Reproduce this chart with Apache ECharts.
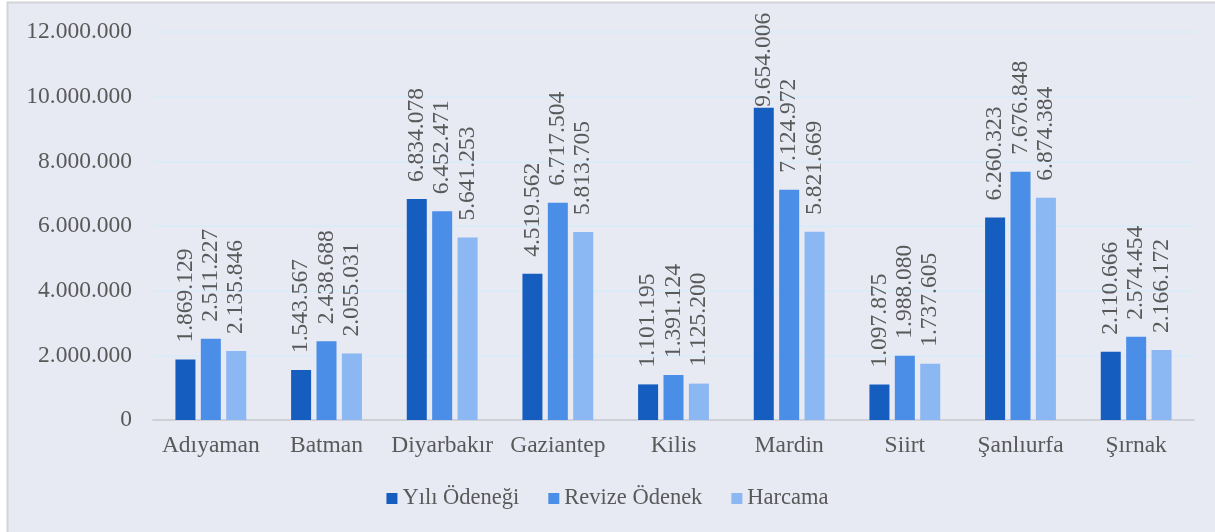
<!DOCTYPE html>
<html><head><meta charset="utf-8">
<script src="https://cdn.jsdelivr.net/npm/echarts@6/dist/echarts.min.js"></script>
<style>html,body{margin:0;padding:0;background:#fff;}#c{width:1215px;height:532px;}</style>
</head><body><div id="c"></div>
<script>
var categories = ['Adıyaman','Batman','Diyarbakır','Gaziantep','Kilis','Mardin','Siirt','Şanlıurfa','Şırnak'];
var seriesNames = ['Yılı Ödeneği','Revize Ödenek','Harcama'];
var yiliOdenegi = [1869129,1543567,6834078,4519562,1101195,9654006,1097875,6260323,2110666];
var revizeOdenek = [2511227,2438688,6452471,6717504,1391124,7124972,1988080,7676848,2574454];
var harcama = [2135846,2055031,5641253,5813705,1125200,5821669,1737605,6874384,2166172];
var yTicks = [0,2000000,4000000,6000000,8000000,10000000,12000000];

function fmt(v){ return String(v).replace(/\B(?=(\d{3})+(?!\d))/g,'.'); }
var font = '"Liberation Serif","Times New Roman",serif';
var colors = ['#155EBF','#4A8EE8','#8BB7F2'];
var chart = echarts.init(document.getElementById('c'));
function mk(name, data, i){
  // labels that would leave the plot area are pulled down against the bar top
  var items = data.map(function(v){ return v > 9000000 ? {value:v,label:{distance:1}} : v; });
  return {name:name,type:'bar',data:items,barWidth:20,barGap:'27%',
    itemStyle:{color:colors[i]},
    label:{show:true,position:'top',rotate:90,align:'left',verticalAlign:'middle',distance:17,
      fontFamily:font,fontSize:23.5,color:'#595959',formatter:function(p){return fmt(p.value);}}};
}
chart.setOption({
  animation:false,
  backgroundColor:'#ffffff',
  color:colors,
  graphic:[{type:'rect',z:-10,silent:true,shape:{x:7.5,y:2.5,width:1220,height:540},
    style:{fill:'#E7E9F3',stroke:'#D4D4D8',lineWidth:2}}],
  grid:{left:153,right:21,top:32,bottom:112},
  xAxis:{type:'category',data:categories,
    axisLine:{lineStyle:{color:'#D0D1D8',width:2}},axisTick:{show:false},
    axisLabel:{interval:0,fontFamily:font,fontSize:23.5,color:'#595959',margin:14}},
  yAxis:{type:'value',min:yTicks[0],max:yTicks[yTicks.length-1],interval:2000000,
    axisLine:{show:false},axisTick:{show:false},
    splitLine:{lineStyle:{color:'#DCEBF8',width:2}},
    axisLabel:{fontFamily:font,fontSize:23.5,color:'#595959',margin:21,formatter:function(v){return fmt(v);}}},
  legend:{bottom:17,left:'center',itemWidth:11,itemHeight:11,itemGap:29,icon:'rect',
    textStyle:{fontFamily:font,fontSize:22.5,color:'#595959'},data:seriesNames},
  series:[mk(seriesNames[0],yiliOdenegi,0),mk(seriesNames[1],revizeOdenek,1),mk(seriesNames[2],harcama,2)]
});
</script></body></html>
